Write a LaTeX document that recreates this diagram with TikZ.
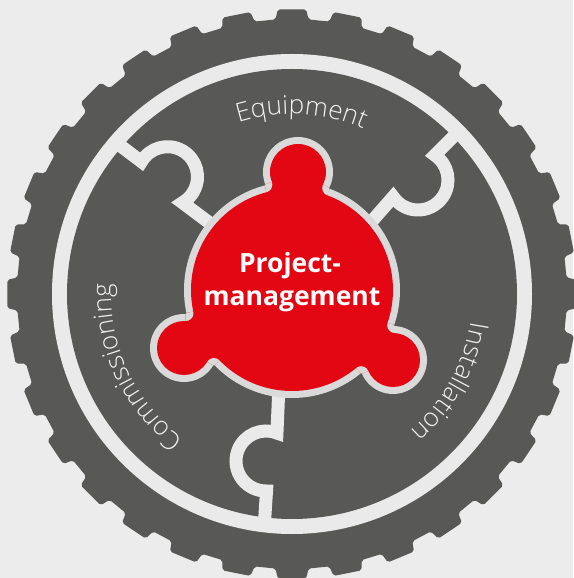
\documentclass[tikz,border=0pt]{standalone}
\usepackage{fontspec}
\setmainfont{Open Sans}
\newfontfamily\lightfont{Open Sans Light}
\usetikzlibrary{decorations.text,calc,intersections}
\definecolor{bgcol}{HTML}{ECECEC}
\definecolor{gearcol}{HTML}{585857}
\definecolor{ringcol}{HTML}{EAEAEA}
\definecolor{redcol}{HTML}{E30613}
\definecolor{rimcol}{HTML}{DADADA}
\definecolor{labelcol}{HTML}{F2F2F2}
\tikzset{
  divider/.style={draw=ringcol, line width=13pt},
  rimdisc/.style={fill=rimcol},
  reddisc/.style={fill=redcol},
  pmtext/.style={text=white, font=\bfseries\fontsize{26.5}{30}\selectfont, anchor=base, inner sep=0pt},
  arclabel/.style={decorate, decoration={text along path, text align=center, text={#1}}}
}
\newcommand{\lbl}{\lightfont\fontsize{26}{30}\selectfont\color{labelcol}}
\begin{document}
\begin{tikzpicture}[x=1pt,y=1pt]
\fill[bgcol] (-292,-284) rectangle (281,294);
\useasboundingbox (-292,-284) rectangle (281,294);
% gear with 32 teeth
\fill[gearcol, rounded corners=2pt] (86.55:275)
  \foreach \i in {0,...,31}{
    -- ({90+\i*11.25-3.45}:275) -- ({90+\i*11.25-2.85}:285)
    -- ({90+\i*11.25+2.85}:285) -- ({90+\i*11.25+3.45}:275)
  } -- cycle;
% light ring and inner disc
\fill[ringcol] (0,0) circle[radius=240];
\fill[gearcol] (0,0) circle[radius=225];
% puzzle dividers
\coordinate (kUL) at (-124.5,117.3);
\coordinate (kUR) at (126,114);
\coordinate (kB) at (-26,-167);
\draw[divider] (-178.3,153.3) -- ($(kUL)+(150:30)$) arc[start angle=150, end angle=-60, radius=30] -- (-77,67);
\draw[divider] (168,164) -- ($(kUR)+(55.9:30)$) arc[start angle=55.9, end angle=-145.8, radius=30] -- (73,65);
\draw[divider] (-13,-91) -- ($(kB)+(68.6:30)$) arc[start angle=68.6, end angle=271, radius=30] -- (-28,-236);
% red centre piece
\coordinate (rc) at (0,4);
\coordinate (bT) at (6,122);
\coordinate (bL) at (-108,-54);
\coordinate (bR) at (101,-66);
% fillet centres (fillet radius 0.8 outside the rim)
\path[name path=fM] (rc) circle[radius=108.8];
\path[name path=fT] (bT) circle[radius=35.8];
\path[name path=fL] (bL) circle[radius=34.8];
\path[name path=fR] (bR) circle[radius=34.8];
\path[name intersections={of=fM and fT, name=iT}];
\path[name intersections={of=fM and fL, name=iL}];
\path[name intersections={of=fM and fR, name=iR}];
% rim
\fill[rimdisc] (rc) circle[radius=108];
\fill[rimdisc] (bT) circle[radius=35];
\fill[rimdisc] (bL) circle[radius=34];
\fill[rimdisc] (bR) circle[radius=34];
% red
\fill[reddisc] (rc) circle[radius=101];
\fill[reddisc] (bT) circle[radius=28];
\fill[reddisc] (bL) circle[radius=27];
\fill[reddisc] (bR) circle[radius=27];
\foreach \b/\n in {bT/iT,bL/iL,bR/iR}{
  \foreach \k in {1,2}{
    \begin{scope}
      \clip (rc) -- (\b) -- (\n-\k) -- cycle;
      \fill[reddisc] (rc) -- (\b) -- (\n-\k) -- cycle;
      \fill[rimdisc] (\n-\k) circle[radius=7.8];
      \fill[gearcol] (\n-\k) circle[radius=0.8];
    \end{scope}
  }
}
\node[pmtext] (pm1) at (-2,21) {Project-};
\node[pmtext] (pm2) at (0,-12) {management};
% curved labels
\path[arclabel={|\lbl|Equipment}]
  (117:180) arc[start angle=117, end angle=57, radius=180];
\path[arclabel={|\lbl|Installation}]
  (1:181) arc[start angle=1, end angle=-59, radius=181];
\path[arclabel={|\lbl|Commissioning}]
  (235:181) arc[start angle=235, end angle=175, radius=181];
\end{tikzpicture}
\end{document}
